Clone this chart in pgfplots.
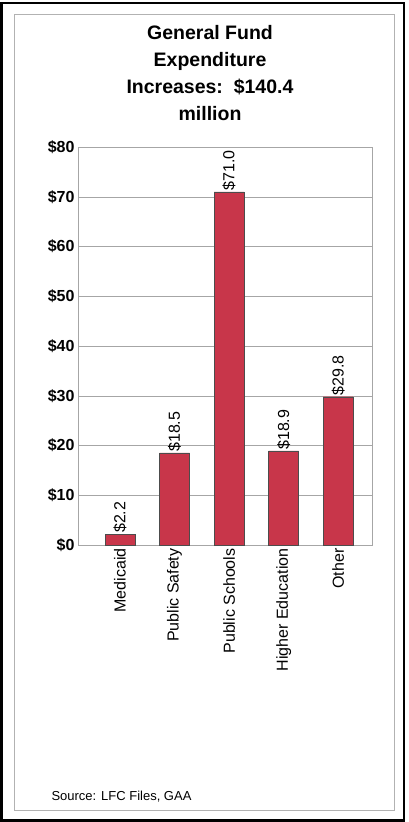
\documentclass[border=0pt]{standalone}
\usepackage{pgfplots}
\pgfplotsset{compat=1.18}
\usepackage{fontspec}
\setmainfont{Liberation Sans}
\definecolor{barred}{HTML}{C8364A}
\begin{document}
\begin{tikzpicture}[x=1pt,y=1pt]
\path[use as bounding box] (0,0) rectangle (409,822);
\draw[line width=2.5pt] (1.5,1.5) rectangle (404,819);
\draw[gray!60,line width=0.6pt] (14,12) rectangle (394,808);
\node[font=\bfseries\fontsize{19.5}{27}\selectfont,align=center,anchor=north] at (210,800) {General Fund\\Expenditure\\Increases:\ \ \$140.4\\million};
\begin{axis}[at={(78pt,277pt)},anchor=south west,scale only axis,width=294pt,height=398pt,
  xmin=-0.77,xmax=4.62,ymin=0,ymax=80,ytick={0,10,...,80},
  yticklabel={\$\pgfmathprintnumber{\tick}},
  /pgf/number format/assume math mode=true,
  ymajorgrids,grid style={gray!70},
  xtick={0,1,2,3,4},xticklabels={Medicaid,Public Safety,Public Schools,Higher Education,Other},
  xticklabel style={rotate=90,anchor=east,font=\fontsize{16}{18}\selectfont},
  yticklabel style={font=\bfseries\fontsize{16}{18}\selectfont},
  major tick length=0pt, axis line style={gray!70},
  nodes near coords={\$\pgfmathprintnumber[fixed,fixed zerofill,precision=1]{\pgfplotspointmeta}},
  nodes near coords style={rotate=90,anchor=west,font=\fontsize{16}{18}\selectfont,inner sep=1pt},
  clip=false]
\addplot[ybar,bar width=30pt,fill=barred,draw=black!70] coordinates {(0,2.2)(1,18.5)(2,71.0)(3,18.9)(4,29.8)};
\end{axis}
\node[anchor=west,font=\fontsize{13}{15}\selectfont] at (48,25) {Source: LFC Files, GAA};
\end{tikzpicture}
\end{document}
